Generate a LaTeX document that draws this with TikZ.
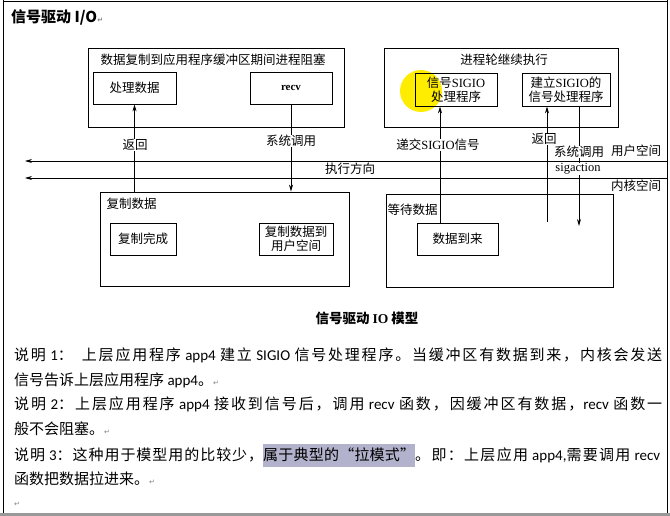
\documentclass[tikz,border=0pt]{standalone}
\usepackage{fontspec}
\setmainfont{Noto Sans CJK SC}
\newfontfamily\lser{Liberation Serif}
\newfontfamily\carl{Carlito}
\newfontfamily\dejavu{DejaVu Sans}
\usetikzlibrary{arrows.meta}
\newcommand{\lt}[1]{{\carl #1}}
\newcommand{\ls}[1]{{\lser #1}}
\newcommand{\retmark}{{\dejavu\fontsize{7}{8}\selectfont\textcolor{gray}{↵}}}
% stretchable glue between CJK characters, for justified lines
\newcount\mycc
\mycc="3000 \loop\ifnum\mycc<"A000 \XeTeXcharclass\mycc=1 \advance\mycc by 1 \repeat
\mycc="FF00 \loop\ifnum\mycc<"FFF0 \XeTeXcharclass\mycc=1 \advance\mycc by 1 \repeat
\XeTeXcharclass"201C=1 \XeTeXcharclass"201D=1
\XeTeXinterchartoks 1 1 = {\hskip 0pt plus 3pt\relax}
\XeTeXinterchartokenstate=1
\newcommand{\jline}[2]{\makebox[#1][s]{#2}}
\begin{document}
\begin{tikzpicture}[x=1pt,y=-1pt,
  box/.style={draw, line width=0.8pt, inner sep=0pt, align=center, font=\fontsize{12.5}{14}\selectfont},
  lab/.style={font=\fontsize{12.5}{14}\selectfont, inner sep=0.5pt},
  wlab/.style={lab, fill=white},
  arr/.style={line width=0.8pt, -{Stealth[length=7pt,width=4pt]}},
  para/.style={anchor=west, inner sep=0pt, font=\fontsize{15}{17}\selectfont},
]
\useasboundingbox (0,0) rectangle (670,516);
\fill[white] (0,0) rectangle (670,516);
% outer frame
\draw[line width=0.8pt] (3,1) -- (667,1);
\draw[line width=1pt] (3,0) -- (3,514);
\draw[line width=1pt] (667,0) -- (667,514);
\draw[line width=3pt, gray!80] (0,514.5) -- (670,514.5);

% title
\node[anchor=west, inner sep=0pt, font=\bfseries\fontsize{15}{17}\selectfont] (title) at (11,17) {信号驱动 I/O\retmark};

% yellow highlight
\fill[yellow!95!orange] (421,91) circle (21);

% top-left group
\node[box, minimum width=256pt, minimum height=79pt] (A) at (216,87.5) {};
\node[lab] (Alab) at (213,60) {数据复制到应用程序缓冲区期间进程阻塞};
\node[box, minimum width=83pt, minimum height=32pt] (P) at (134.5,88) {处理数据};
\node[box, minimum width=82pt, minimum height=32pt, font=\lser\bfseries\fontsize{11}{13}\selectfont] (R) at (291,88) {recv};

% top-right group
\node[box, minimum width=234pt, minimum height=79pt] (B) at (501,87.5) {};
\node[lab] (Blab) at (504,60) {进程轮继续执行};
\node[box, minimum width=82pt, minimum height=33pt] (S1) at (456,89.5) {信号\ls{SIGIO}\\处理程序};
\node[box, minimum width=88pt, minimum height=33pt] (S2) at (566,89.5) {建立\ls{SIGIO}的\\信号处理程序};

% bottom-left group
\node[box, minimum width=249pt, minimum height=94pt] (C) at (224.5,239) {};
\node[lab, anchor=west] (Clab) at (106,204) {复制数据};
\node[box, minimum width=66pt, minimum height=32pt] (C1) at (143,239) {复制完成};
\node[box, minimum width=74pt, minimum height=32pt] (C2) at (296,239) {复制数据到\\用户空间};

% bottom-right group
\node[box, minimum width=227pt, minimum height=93pt] (D) at (499.5,240.5) {};
\node[lab, anchor=west] (Dlab) at (387,210) {等待数据};
\node[box, minimum width=81pt, minimum height=32pt] (D1) at (457.5,239) {数据到来};

% horizontal lines
\coordinate (u0) at (667,161);
\coordinate (u1) at (25,161);
\coordinate (k0) at (667,178);
\coordinate (k1) at (25,178);
\draw[arr] (u0) -- (u1);
\draw[arr] (k0) -- (k1);

% vertical connectors
\coordinate (sigx) at (440,0);
\coordinate (retend) at (547,222);
\coordinate (sysend) at (579,226);
\draw[arr] (C.north -| P.south) -- (P.south);
\draw[arr] (R.south) -- (R.south |- C.north);
\draw[arr] (D1.north -| sigx) -- (S1.south -| sigx);
\draw[arr] (retend) -- (S2.south -| retend);
\draw[arr] (S2.south -| sysend) -- (sysend);

% labels
\node[wlab] (l1) at (135,145) {返回};
\node[wlab] (l2) at (291,141) {系统调用};
\node[lab] (l3) at (350,169) {执行方向};
\node[wlab] (l4) at (438,145) {递交\ls{SIGIO}信号};
\node[wlab] (l5) at (544,139) {返回};
\node[wlab] (l6) at (579,152) {系统调用};
\node[wlab, font=\lser\fontsize{12.5}{14}\selectfont] (l7) at (578,169) {sigaction};
\node[lab] (l8) at (636,151) {用户空间};
\node[lab] (l9) at (636,186) {内核空间};

% caption
\node[font=\bfseries\fontsize{13.5}{15}\selectfont, inner sep=0pt] (cap) at (367,318) {信号驱动 \ls{IO} 模型};

% explanation
\node[para] (t1) at (14,355) {\jline{648pt}{说明 \lt{1}：\hspace{9pt}上层应用程序 \lt{app4} 建立 \lt{SIGIO} 信号处理程序。当缓冲区有数据到来，内核会发送}};
\node[para] (t2) at (14,380) {信号告诉上层应用程序 \lt{app4}。\retmark};
\node[para] (t3) at (14,404.5) {\jline{648pt}{说明 \lt{2}：上层应用程序 \lt{app4} 接收到信号后，调用 \lt{recv} 函数，因缓冲区有数据，\lt{recv} 函数一}};
\node[para] (t4) at (14,429) {般不会阻塞。\retmark};
\node[para] (t5a) at (14,455) {\jline{249pt}{说明 \lt{3}：这种用于模型用的比较少，}};
\node[para, fill=blue!20!gray!50, minimum height=23pt] (t5b) at (263,455) {\jline{152pt}{属于典型的“拉模式”}};
\node[para] (t5c) at (415,455) {\jline{245pt}{。即：上层应用 \lt{app4,}需要调用 \lt{recv}}};
\node[para] (t6) at (14,479) {函数把数据拉进来。\retmark};
\node[para] (t7) at (14,504) {\retmark};
\end{tikzpicture}
\end{document}
